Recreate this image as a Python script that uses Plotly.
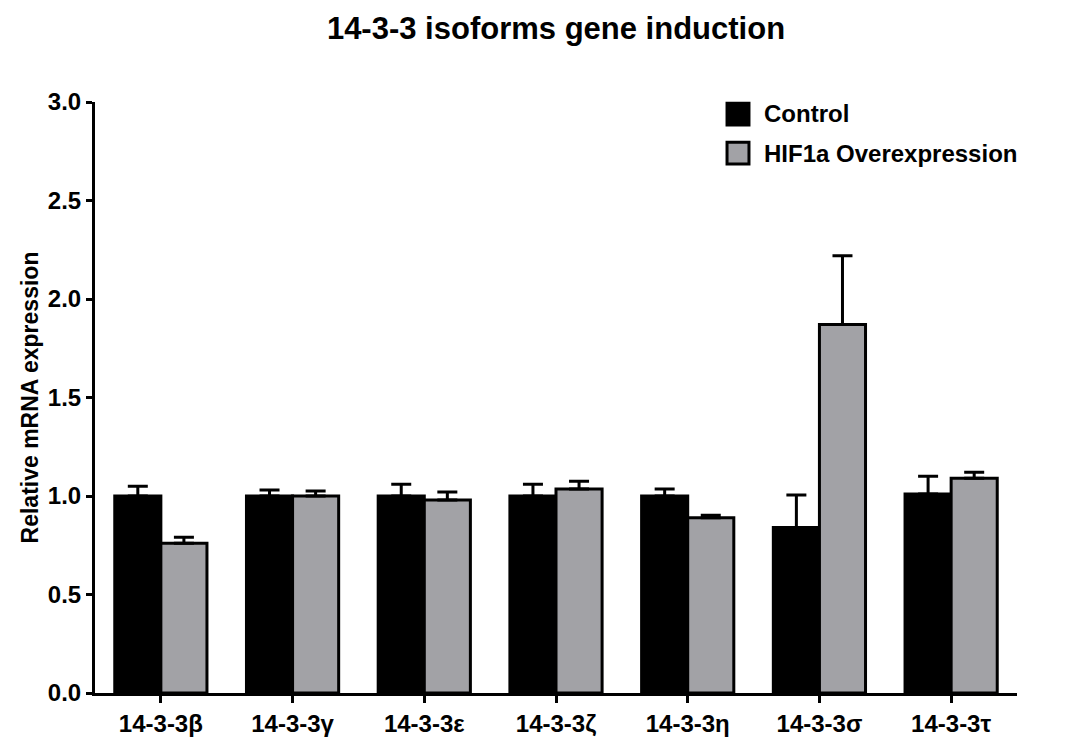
import plotly.graph_objects as go

# 14-3-3 isoforms and relative mRNA expression (mean, upper SEM)
isoforms = ["14-3-3β", "14-3-3γ", "14-3-3ε", "14-3-3ζ", "14-3-3η", "14-3-3σ", "14-3-3τ"]
control_mean = [1.00, 1.00, 1.00, 1.00, 1.00, 0.84, 1.01]
control_err = [0.05, 0.03, 0.06, 0.06, 0.035, 0.165, 0.09]
hif1a_mean = [0.76, 1.00, 0.98, 1.035, 0.89, 1.87, 1.09]
hif1a_err = [0.03, 0.025, 0.04, 0.04, 0.012, 0.35, 0.03]

series_names = ["Control", "HIF1a Overexpression"]
series_colors = ["#000000", "#a2a2a6"]

y_ticks = [0.0, 0.5, 1.0, 1.5, 2.0, 2.5, 3.0]

FONT = "Liberation Sans, Arial, sans-serif"

fig = go.Figure()

for name, color, mean, err in zip(series_names, series_colors,
                                  [control_mean, hif1a_mean],
                                  [control_err, hif1a_err]):
    fig.add_trace(go.Bar(
        name=name,
        x=isoforms,
        y=mean,
        showlegend=False,
        marker=dict(color=color, line=dict(color="#000000", width=3)),
        error_y=dict(type="data", array=err, arrayminus=[0] * len(err),
                     symmetric=False, color="#000000", thickness=3, width=10),
    ))

# Legend: filled squares with bold labels in the top-right of the plot area
legend_shapes = []
legend_annotations = []
legend_rows = [(0.961, 0.998, 0.9797), (0.895, 0.932, 0.9137)]
for (y0, y1, yc), name, color in zip(legend_rows, series_names, series_colors):
    legend_shapes.append(dict(
        type="rect", xref="paper", yref="paper",
        x0=0.6855, x1=0.7093, y0=y0, y1=y1,
        fillcolor=color, line=dict(color="#000000", width=3), layer="above",
    ))
    legend_annotations.append(dict(
        text=name, xref="paper", yref="paper", x=0.7234, y=yc,
        xanchor="left", yanchor="middle", showarrow=False,
        font=dict(family=FONT, size=24, color="#000000", weight="bold"),
    ))

fig.update_layout(
    width=1088,
    height=740,
    margin=dict(l=95, r=71, t=102, b=47, autoexpand=False),
    paper_bgcolor="white",
    plot_bgcolor="white",
    barmode="group",
    bargap=0.3,
    bargroupgap=0,
    showlegend=False,
    font=dict(family=FONT, size=20, color="#000000", weight="bold"),
    title=dict(
        text="14-3-3 isoforms gene induction",
        x=0.5, xanchor="center", xref="paper",
        y=0.962, yanchor="middle",
        font=dict(family=FONT, size=31, color="#000000", weight="bold"),
    ),
    shapes=legend_shapes,
    annotations=legend_annotations,
    xaxis=dict(
        range=[-0.5, 6.5],
        automargin=False,
        showline=True, linecolor="#000000", linewidth=3,
        ticks="outside", ticklen=7, tickwidth=3, tickcolor="#000000",
        showgrid=False, zeroline=False,
        tickfont=dict(family=FONT, size=24, weight="bold"),
    ),
    yaxis=dict(
        range=[0, 3.0],
        automargin=True,
        tickvals=y_ticks,
        tickformat=".1f",
        showline=True, linecolor="#000000", linewidth=3,
        ticks="outside", ticklen=6, tickwidth=3, tickcolor="#000000",
        showgrid=False, zeroline=False,
        tickfont=dict(family=FONT, size=24, weight="bold"),
        title=dict(text="Relative mRNA expression", standoff=3,
                   font=dict(family=FONT, size=23, weight="bold")),
    ),
)

fig.write_html("out.html")
